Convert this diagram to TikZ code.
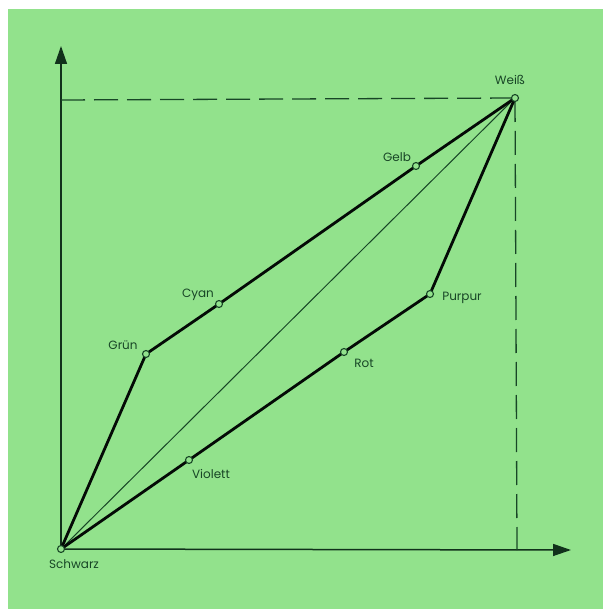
\documentclass[tikz,border=0pt]{standalone}
\usepackage{fontspec}
\setmainfont{Poppins}
\usetikzlibrary{arrows.meta}
\definecolor{bg}{RGB}{146,226,140}
\definecolor{ink}{RGB}{24,70,38}
\begin{document}
\begin{tikzpicture}[x=1pt,y=-1pt,
  pt/.style={circle,draw=ink,fill=bg,line width=1.1pt,inner sep=0pt,minimum size=7pt},
  lbl/.style={text=ink,font=\fontsize{12}{14}\selectfont,inner sep=0pt},
  axis/.style={draw=ink!70!black,line width=1.5pt,-{Triangle[length=18pt,width=12pt]}},
  guide/.style={draw=ink,line width=1.3pt,dash pattern=on 24pt off 9pt},
  path1/.style={draw=black!85!ink,line width=2.8pt},
  diag/.style={draw=ink,line width=1pt}]
\useasboundingbox (0,0) rectangle (609,609);
\fill[white] (0,0) rectangle (609,609);
\fill[bg] (8,9) rectangle (603,609);
% coordinates
\coordinate (S) at (61,549);
\coordinate (W) at (515,98);
\coordinate (ytip) at (61,46);
\coordinate (xtip) at (571,550);
\coordinate (yd) at (61,100);
\coordinate (xd) at (517,550);
% axes
\draw[axis] (S) -- (ytip);
\draw[axis] (S) -- (xtip);
% dashed guides
\draw[guide] (yd) -- (W);
\draw[guide] (W) -- (xd);
% diagonal
\draw[diag] (S) -- (W);
% points
\coordinate (G) at (146,354);
\coordinate (C) at (219,304);
\coordinate (Y) at (416,166);
\coordinate (V) at (189,460);
\coordinate (R) at (344,352);
\coordinate (P) at (430,294);
\draw[path1,line join=round] (S) -- (G) -- (C) -- (Y) -- (W);
\draw[path1,line join=round] (S) -- (V) -- (R) -- (P) -- (W);
\node[pt] (nS) at (S) {};
\node[pt] (nW) at (W) {};
\node[pt] (nG) at (G) {};
\node[pt] (nC) at (C) {};
\node[pt] (nY) at (Y) {};
\node[pt] (nV) at (V) {};
\node[pt] (nR) at (R) {};
\node[pt] (nP) at (P) {};
% labels
\node[lbl] (lW) at (510,80) {Weiß};
\node[lbl] (lS) at (74,564) {Schwarz};
\node[lbl] (lG) at (123,345) {Grün};
\node[lbl] (lY) at (397,157) {Gelb};
\node[lbl] (lC) at (198,295) {Cyan};
\node[lbl] (lR) at (364,363) {Rot};
\node[lbl] (lP) at (462,298) {Purpur};
\node[lbl] (lV) at (211,474) {Violett};
\end{tikzpicture}
\end{document}
